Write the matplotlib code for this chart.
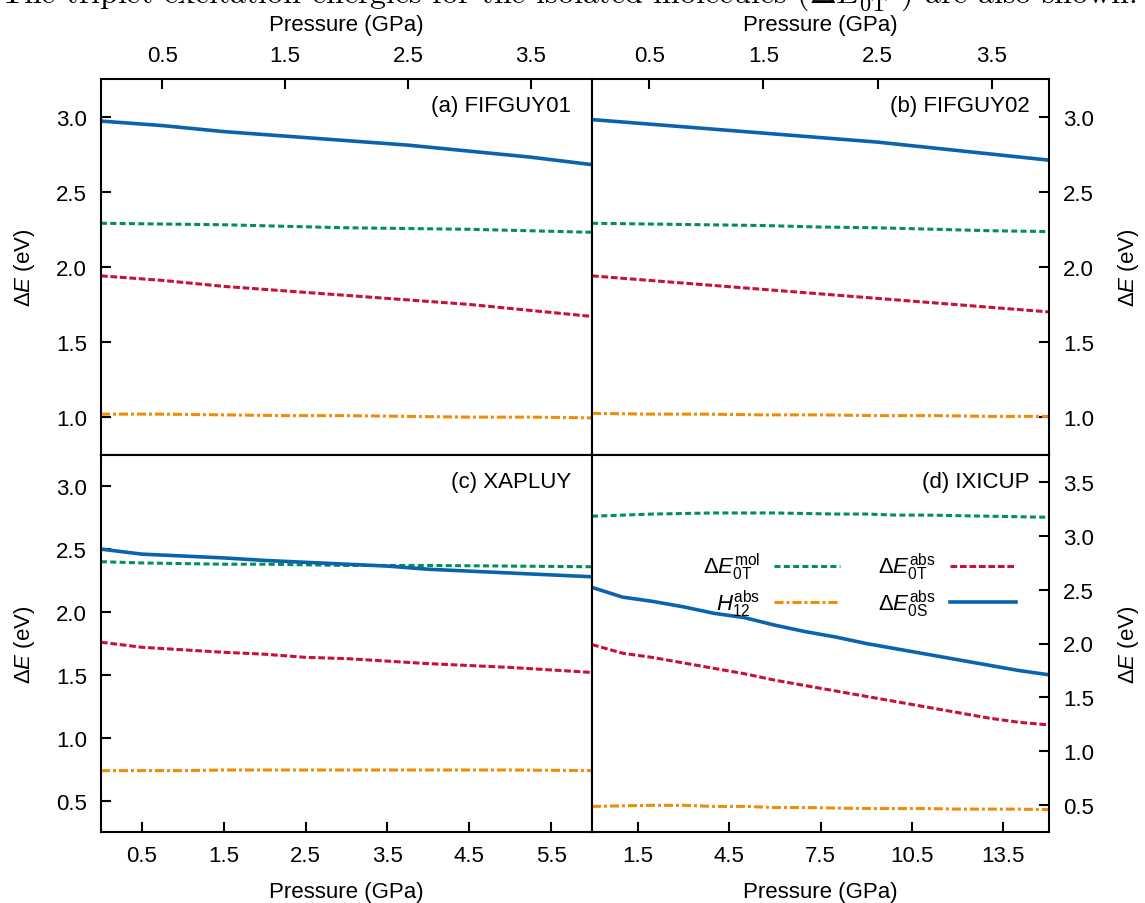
import numpy as np
import matplotlib.pyplot as plt

plt.rcParams['font.family'] = ['Liberation Sans', 'DejaVu Sans']
plt.rcParams['mathtext.fontset'] = 'custom'
plt.rcParams['mathtext.rm'] = 'Liberation Sans'
plt.rcParams['mathtext.it'] = 'Liberation Sans:italic'
plt.rcParams['font.size'] = 16

# dados (pressao em GPa, energias em eV)
p_a = [0, 0.5, 1, 1.5, 2, 2.5, 3, 3.5, 4]
s0_a = [2.97, 2.94, 2.90, 2.87, 2.84, 2.81, 2.77, 2.73, 2.68]
mol_a = [2.29, 2.285, 2.28, 2.27, 2.26, 2.255, 2.25, 2.24, 2.23]
t0_a = [1.94, 1.91, 1.87, 1.84, 1.81, 1.78, 1.75, 1.71, 1.67]
h12_a = [1.02, 1.02, 1.015, 1.01, 1.01, 1.005, 1.0, 1.0, 0.995]

p_b = [0, 0.5, 1, 1.5, 2, 2.5, 3, 3.5, 4]
s0_b = [2.98, 2.95, 2.92, 2.89, 2.86, 2.83, 2.79, 2.75, 2.71]
mol_b = [2.29, 2.285, 2.28, 2.275, 2.265, 2.26, 2.25, 2.24, 2.235]
t0_b = [1.94, 1.91, 1.88, 1.85, 1.82, 1.79, 1.76, 1.73, 1.70]
h12_b = [1.025, 1.02, 1.02, 1.015, 1.015, 1.01, 1.01, 1.005, 1.005]

p_c = [0, 0.5, 1, 1.5, 2, 2.5, 3, 3.5, 4, 5, 6]
s0_c = [2.50, 2.46, 2.445, 2.43, 2.41, 2.395, 2.38, 2.365, 2.34, 2.31, 2.28]
mol_c = [2.40, 2.39, 2.385, 2.38, 2.38, 2.375, 2.37, 2.37, 2.37, 2.365, 2.36]
t0_c = [1.76, 1.72, 1.70, 1.68, 1.665, 1.64, 1.63, 1.61, 1.59, 1.56, 1.52]
h12_c = [0.74, 0.74, 0.74, 0.745, 0.745, 0.745, 0.745, 0.745, 0.745, 0.745, 0.74]

p_d = [0, 1, 2, 3, 4, 5, 6, 7, 8, 9, 10, 11, 12, 13, 14, 15]
s0_d = [2.52, 2.43, 2.39, 2.34, 2.28, 2.24, 2.17, 2.11, 2.06, 2.00, 1.95, 1.90, 1.85, 1.80, 1.75, 1.71]
mol_d = [3.18, 3.19, 3.20, 3.205, 3.21, 3.21, 3.21, 3.205, 3.20, 3.20, 3.19, 3.19, 3.185, 3.18, 3.175, 3.17]
t0_d = [1.99, 1.91, 1.87, 1.82, 1.77, 1.72, 1.66, 1.61, 1.56, 1.51, 1.46, 1.41, 1.36, 1.31, 1.27, 1.245]
h12_d = [0.49, 0.495, 0.50, 0.50, 0.49, 0.49, 0.48, 0.48, 0.475, 0.47, 0.47, 0.47, 0.465, 0.465, 0.465, 0.46]

paineis = [
    dict(nome='(a) FIFGUY01', p=p_a, s0=s0_a, mol=mol_a, t0=t0_a, h12=h12_a,
         xlim=(0, 4), ylim=(0.75, 3.25), xt=[0.5, 1.5, 2.5, 3.5], yt=[1.0, 1.5, 2.0, 2.5, 3.0],
         rect=[101, 80, 592, 455.7], topo=True, dir=False),
    dict(nome='(b) FIFGUY02', p=p_b, s0=s0_b, mol=mol_b, t0=t0_b, h12=h12_b,
         xlim=(0, 4), ylim=(0.75, 3.25), xt=[0.5, 1.5, 2.5, 3.5], yt=[1.0, 1.5, 2.0, 2.5, 3.0],
         rect=[592, 80, 1049, 455.7], topo=True, dir=True),
    dict(nome='(c) XAPLUY', p=p_c, s0=s0_c, mol=mol_c, t0=t0_c, h12=h12_c,
         xlim=(0, 6), ylim=(0.25, 3.25), xt=[0.5, 1.5, 2.5, 3.5, 4.5, 5.5],
         yt=[0.5, 1.0, 1.5, 2.0, 2.5, 3.0],
         rect=[101, 455.7, 592, 833.3], topo=False, dir=False),
    dict(nome='(d) IXICUP', p=p_d, s0=s0_d, mol=mol_d, t0=t0_d, h12=h12_d,
         xlim=(0, 15), ylim=(0.25, 3.75), xt=[1.5, 4.5, 7.5, 10.5, 13.5],
         yt=[0.5, 1.0, 1.5, 2.0, 2.5, 3.0, 3.5],
         rect=[592, 455.7, 1049, 833.3], topo=False, dir=True),
]

W, H = 1145, 904
verde = '#008f5a'
vermelho = '#c8103c'
laranja = '#f08c0a'
azul = '#0a64ad'

fig = plt.figure(figsize=(W / 100, H / 100), dpi=100)

# legenda do texto da pagina, cortada no topo como na figura original
fig.text(0.0, 1 - 4 / H, 'The triplet excitation energies for the isolated molecules '
         r'($\Delta E_{0\mathrm{T}}^{\mathrm{mol}}$) are also shown.',
         family='cmr10', math_fontfamily='cm', fontsize=23, va='baseline', ha='left')

for pn in paineis:
    x0, y0, x1, y1 = pn['rect']
    ax = fig.add_axes([x0 / W, 1 - y1 / H, (x1 - x0) / W, (y1 - y0) / H])
    l_mol, = ax.plot(pn['p'], pn['mol'], color=verde, lw=2.2, dashes=(1.95, 1.1))
    l_h12, = ax.plot(pn['p'], pn['h12'], color=laranja, lw=2.2, dashes=(2.95, 0.98, 0.98, 0.98))
    l_t0, = ax.plot(pn['p'], pn['t0'], color=vermelho, lw=2.2, dashes=(2.2, 0.9))
    l_s0, = ax.plot(pn['p'], pn['s0'], color=azul, lw=2.6)
    ax.set_xlim(*pn['xlim'])
    ax.set_ylim(*pn['ylim'])
    ax.set_xticks(pn['xt'])
    ax.set_yticks(pn['yt'])
    ax.set_xticklabels([f'{v:.1f}' for v in pn['xt']])
    ax.set_yticklabels([f'{v:.1f}' for v in pn['yt']])
    for s in ax.spines.values():
        s.set_linewidth(1.5)
    ax.tick_params(direction='in', length=7, width=1.5,
                   top=pn['topo'], bottom=not pn['topo'],
                   labeltop=pn['topo'], labelbottom=not pn['topo'],
                   left=not pn['dir'], right=pn['dir'],
                   labelleft=not pn['dir'], labelright=pn['dir'])
    ax.tick_params(axis='x', pad=9.5)
    ax.tick_params(axis='y', pad=10)
    if pn['topo']:
        ax.set_xlabel('Pressure (GPa)', labelpad=10.5)
        ax.xaxis.set_label_position('top')
    else:
        ax.set_xlabel('Pressure (GPa)', labelpad=10.5)
    if pn['dir']:
        ax.set_ylabel(r'$\Delta E$ (eV)', labelpad=16)
        ax.yaxis.set_label_position('right')
    else:
        ax.set_ylabel(r'$\Delta E$ (eV)', labelpad=14)
    ax.text(0.957, 0.93, pn['nome'], transform=ax.transAxes, ha='right', va='center')
    if pn['nome'].startswith('(d)'):
        ax.legend([l_mol, l_h12, l_t0, l_s0],
                  [r'$\Delta E_{\mathrm{0T}}^{\mathrm{mol}}$', r'$H_{12}^{\mathrm{abs}}$',
                   r'$\Delta E_{\mathrm{0T}}^{\mathrm{abs}}$', r'$\Delta E_{\mathrm{0S}}^{\mathrm{abs}}$'],
                  ncol=2, markerfirst=False, frameon=False, handlelength=2.97,
                  handletextpad=0.65, columnspacing=1.7, labelspacing=0.25,
                  loc='center', bbox_to_anchor=(0.585, 0.655))

plt.savefig('out.png', dpi=100)
